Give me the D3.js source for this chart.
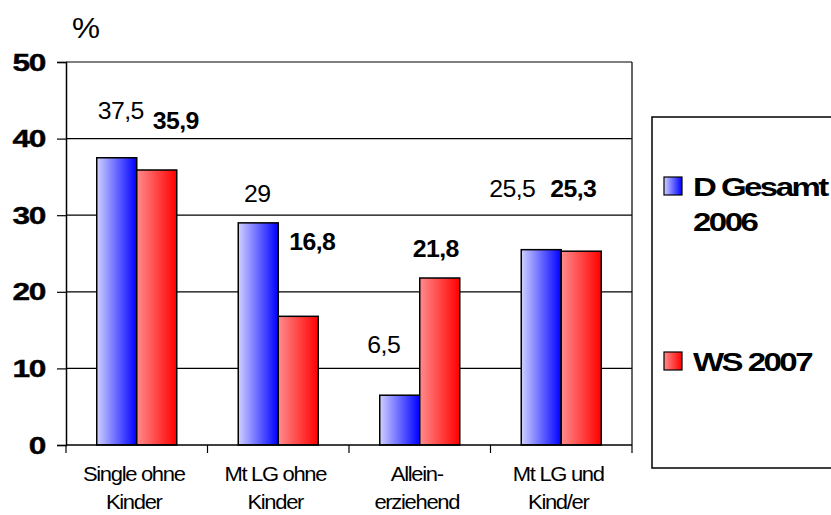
<!DOCTYPE html>
<html>
<head>
<meta charset="utf-8">
<script src="https://cdn.jsdelivr.net/npm/d3@7"></script>
<style>
  html, body { margin: 0; padding: 0; background: #fff; }
  svg { display: block; font-family: "Liberation Sans", Arial, sans-serif; }
</style>
</head>
<body>
<svg id="chart" width="831" height="515"></svg>
<script>
// Categories (two-line labels) and the two series
const categories = ["Single ohne Kinder", "Mt LG ohne Kinder", "Allein- erziehend", "Mt LG und Kind/er"];
const categoryLines = [["Single ohne", "Kinder"], ["Mt LG ohne", "Kinder"], ["Allein-", "erziehend"], ["Mt LG und", "Kind/er"]];
const seriesNames = ["D Gesamt 2006", "WS 2007"];
const valuesGesamt2006 = [37.5, 29, 6.5, 25.5];
const valuesWS2007 = [35.9, 16.8, 21.8, 25.3];
const valueTextGesamt2006 = ["37,5", "29", "6,5", "25,5"];
const valueTextWS2007 = ["35,9", "16,8", "21,8", "25,3"];
const yTicks = [0, 10, 20, 30, 40, 50];

// Label placement offsets (px) relative to each bar's top-centre
const labelOffsetGesamt = [[4, -39], [-1, -21], [-16, -42], [-29, -53]];
const labelOffsetWS = [[19, -41], [14, -66], [-4, -21], [-8, -54]];

const svg = d3.select("#chart");
const plot = { left: 66, right: 632, top: 62, bottom: 445 };

const x = d3.scaleBand().domain(categories).range([plot.left, plot.right]).padding(0);
const y = d3.scaleLinear().domain([0, 50]).range([plot.bottom, plot.top]);
const barW = 40;

// Text helper: horizontally widened glyphs, anchored at (px, py)
function label(parent, px, py, str, opts) {
  const o = Object.assign({ size: 20, weight: "normal", anchor: "start", sx: 1, ls: 0 }, opts);
  return parent.append("text")
    .attr("transform", `translate(${px},${py}) scale(${o.sx},1)`)
    .attr("text-anchor", o.anchor)
    .attr("font-size", o.size).attr("font-weight", o.weight)
    .attr("letter-spacing", o.ls + "px").attr("fill", "#000")
    .text(str);
}

// Gradients
const defs = svg.append("defs");
function grad(id, light, dark) {
  const g = defs.append("linearGradient").attr("id", id)
    .attr("x1", "0%").attr("x2", "100%").attr("y1", "0%").attr("y2", "0%");
  g.append("stop").attr("offset", "0%").attr("stop-color", light);
  g.append("stop").attr("offset", "100%").attr("stop-color", dark);
}
grad("gBlue", "#cfd0ff", "#0000ff");
grad("gRed", "#ff8c8c", "#ff0000");

// Gridlines
svg.append("g").selectAll("line").data(yTicks.filter(d => d > 0)).join("line")
  .attr("x1", plot.left).attr("x2", plot.right)
  .attr("y1", d => y(d)).attr("y2", d => y(d))
  .attr("stroke", "#000").attr("stroke-width", 1.2);

// Y axis
const yAxis = svg.append("g").attr("transform", `translate(${plot.left},0)`)
  .call(d3.axisLeft(y).tickValues(yTicks).tickSize(9).tickFormat(""));
yAxis.select(".domain").attr("stroke", "#000").attr("stroke-width", 1.5);
yAxis.selectAll(".tick line").attr("stroke", "#000").attr("stroke-width", 1.2);
const yLabels = svg.append("g");
yTicks.forEach(t => {
  label(yLabels, 45, y(t) + 8.5, String(t), { size: 24, weight: "bold", anchor: "end", sx: 1.32, ls: -1 })
    .attr("stroke", "#000").attr("stroke-width", 0.4);
});

// Right border
svg.append("line").attr("x1", plot.right).attr("x2", plot.right)
  .attr("y1", plot.top).attr("y2", plot.bottom)
  .attr("stroke", "#000").attr("stroke-width", 1.2);

// Bars
const bars = svg.append("g");
categories.forEach((c, i) => {
  const cx = x(c) + x.bandwidth() / 2;
  bars.append("rect")
    .attr("x", cx - barW).attr("width", barW)
    .attr("y", y(valuesGesamt2006[i])).attr("height", y(0) - y(valuesGesamt2006[i]))
    .attr("fill", "url(#gBlue)").attr("stroke", "#000").attr("stroke-width", 1.5);
  bars.append("rect")
    .attr("x", cx).attr("width", barW)
    .attr("y", y(valuesWS2007[i])).attr("height", y(0) - y(valuesWS2007[i]))
    .attr("fill", "url(#gRed)").attr("stroke", "#000").attr("stroke-width", 1.5);
});

// X axis (baseline and category ticks)
const xAxis = svg.append("g").attr("transform", `translate(0,${plot.bottom})`);
xAxis.append("line").attr("x1", plot.left).attr("x2", plot.right)
  .attr("y1", 0).attr("y2", 0).attr("stroke", "#000").attr("stroke-width", 1.5);
const bounds = categories.map(c => x(c)).concat([plot.right]);
xAxis.selectAll("line.tick").data(bounds).join("line").attr("class", "tick")
  .attr("x1", d => d).attr("x2", d => d).attr("y1", 0).attr("y2", 8)
  .attr("stroke", "#000").attr("stroke-width", 1.2);

// Category labels
const catG = svg.append("g");
categories.forEach((c, i) => {
  const cx = x(c) + x.bandwidth() / 2 - 3;
  categoryLines[i].forEach((line, j) => {
    label(catG, cx, 481 + j * 28, line, { size: 20, anchor: "middle", sx: 1.1, ls: -1.2 });
  });
});

// Value labels
const valG = svg.append("g");
categories.forEach((c, i) => {
  const cx = x(c) + x.bandwidth() / 2;
  label(valG, cx - barW / 2 + labelOffsetGesamt[i][0], y(valuesGesamt2006[i]) + labelOffsetGesamt[i][1],
    valueTextGesamt2006[i], { size: 23, anchor: "middle", sx: 1.08, ls: -0.5 });
  label(valG, cx + barW / 2 + labelOffsetWS[i][0], y(valuesWS2007[i]) + labelOffsetWS[i][1],
    valueTextWS2007[i], { size: 23, weight: "bold", anchor: "middle", sx: 1.08, ls: -0.5 });
});

// Unit label
label(svg, 72, 38, "%", { size: 30, sx: 1.05 });

// Legend
const legend = svg.append("g");
legend.append("rect").attr("x", 652).attr("y", 117).attr("width", 200).attr("height", 351)
  .attr("fill", "#fff").attr("stroke", "#000").attr("stroke-width", 1.5);
const legendItems = [
  { lines: ["D Gesamt", "2006"], fill: "url(#gBlue)", y: 177 },
  { lines: ["WS 2007"], fill: "url(#gRed)", y: 352 }
];
legendItems.forEach(it => {
  legend.append("rect").attr("x", 664).attr("y", it.y).attr("width", 18).attr("height", 18)
    .attr("fill", it.fill).attr("stroke", "#000").attr("stroke-width", 1.2);
  it.lines.forEach((line, j) => {
    label(legend, 693, it.y + 19 + j * 35, line, { size: 26, weight: "bold", sx: 1.27, ls: -2 });
  });
});
</script>
</body>
</html>
